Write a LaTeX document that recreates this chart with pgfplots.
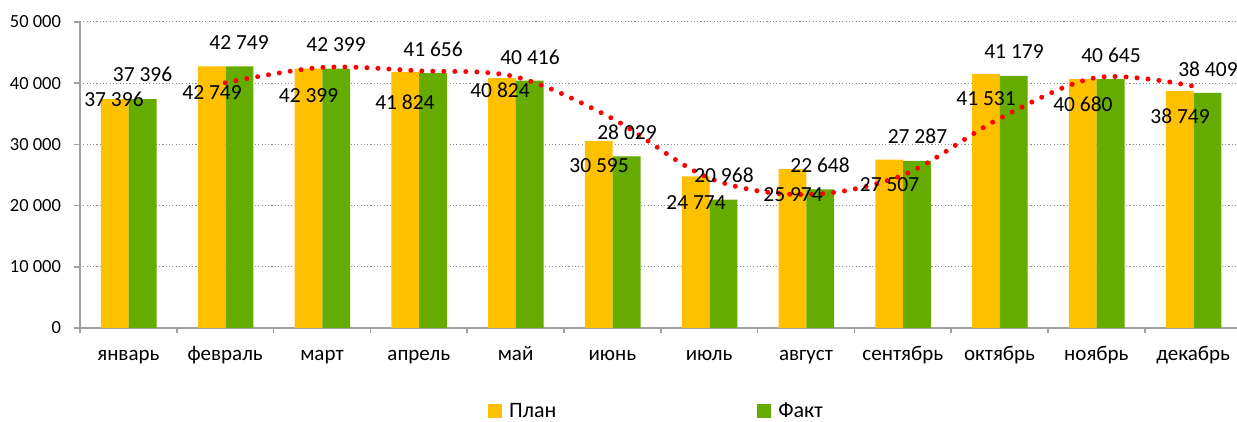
\documentclass[border=0pt]{standalone}
\usepackage{fontspec}
\setmainfont{Carlito}
\usepackage{pgfplots}
\pgfplotsset{compat=1.18}

\definecolor{plan}{HTML}{FFC000}
\definecolor{fakt}{HTML}{66AC00}
\definecolor{axgray}{HTML}{A0A0A0}

\newcommand{\tickfont}{\fontsize{18.5}{20}\selectfont}
\newcommand{\catfont}{\fontsize{21}{23}\selectfont}
\newcommand{\datafont}{\fontsize{21.5}{23}\selectfont}
\newcommand{\legfont}{\fontsize{22}{24}\selectfont}

\pgfplotsset{
    sqlegend/.style={legend image code/.code={%
        \fill[##1] (0pt,-7pt) rectangle (14pt,7pt);
        \path (19pt,0pt);}},
    barlabels/.style={forget plot, only marks, mark=none, nodes near coords,
        point meta=explicit symbolic,
        every node near coord/.append style={anchor=center, inner sep=0pt, font=\datafont}},
}

\begin{document}
\begin{tikzpicture}
\begin{axis}[
    scale only axis,
    width=1161.6pt, height=306pt,
    xmin=-0.5, xmax=11.5,
    ymin=0, ymax=50000,
    axis x line=bottom, axis y line=left,
    axis line style={-, draw=axgray, line width=1.5pt},
    tick style={draw=axgray, line width=1.5pt},
    tick align=outside,
    major tick length=5.5pt,
    scaled y ticks=false,
    ytick={0,10000,20000,30000,40000,50000},
    yticklabels={0,10 000,20 000,30 000,40 000,50 000},
    yticklabel style={font=\tickfont, xshift=-10pt},
    xtick={-0.5,0.5,...,11.5},
    xticklabels={январь,февраль,март,апрель,май,июнь,июль,август,сентябрь,октябрь,ноябрь,декабрь},
    x tick label as interval,
    xticklabel style={font=\catfont, anchor=base, yshift=-27pt},
    ymajorgrids,
    grid style={draw=black!45, line width=1pt, dash pattern=on 1.1pt off 2.2pt},
    legend columns=2,
    legend style={at={(0.3512,-0.2712)}, anchor=west, draw=none, fill=none,
        font=\legfont, inner sep=0pt,
        /tikz/every even column/.append style={column sep=199pt}},
]

\addplot[ybar, bar width=0.287, bar shift=-0.140, fill=plan, draw=none, sqlegend]
coordinates {
    (0,37396)(1,42749)(2,42399)(3,41824)(4,40824)(5,30595)
    (6,24774)(7,25974)(8,27507)(9,41531)(10,40680)(11,38749)
};
\addlegendentry{План}

\addplot[ybar, bar width=0.287, bar shift=0.147, fill=fakt, draw=none, sqlegend]
coordinates {
    (0,37396)(1,42749)(2,42399)(3,41656)(4,40416)(5,28029)
    (6,20968)(7,22648)(8,27287)(9,41179)(10,40645)(11,38409)
};
\addlegendentry{Факт}

% data labels, placed where they stand in the reference
\addplot[barlabels] table[col sep=comma, x=x, y=y, meta=lab] {
x,y,lab
-0.149,37419,37 396
0.864,38399,42 749
1.861,37909,42 399
2.857,36847,41 824
3.839,38889,40 824
4.862,26471,30 595
5.864,20507,24 774
6.866,21814,25 974
7.863,23448,27 507
8.860,37419,41 531
9.861,36520,40 680
10.864,34641,38 749
};
\addplot[barlabels] table[col sep=comma, x=x, y=y, meta=lab] {
x,y,lab
0.146,41422,37 396
1.143,46650,42 749
2.145,46242,42 399
3.147,45589,41 656
4.149,44281,40 416
5.151,32026,28 029
6.153,24918,20 968
7.145,26552,22 648
8.152,31373,27 287
9.149,45098,41 179
10.151,44608,40 645
11.153,42239,38 409
};

% moving average (2 periods) of Факт
\addplot[forget plot, red, line width=5pt, line cap=round,
    dash pattern=on 0pt off 11pt, smooth, tension=0.55]
coordinates {
    (1,40072.5)(2,42574)(3,42027.5)(4,41036)(5,34222.5)(6,24498.5)
    (7,21808)(8,24967.5)(9,34233)(10,40912)(11,39527)
};
\end{axis}
\pgfresetboundingbox
\path ([shift={(-80pt,-94pt)}]current axis.south west) rectangle
      ([shift={(1157pt,328pt)}]current axis.south west);
\end{tikzpicture}
\end{document}
